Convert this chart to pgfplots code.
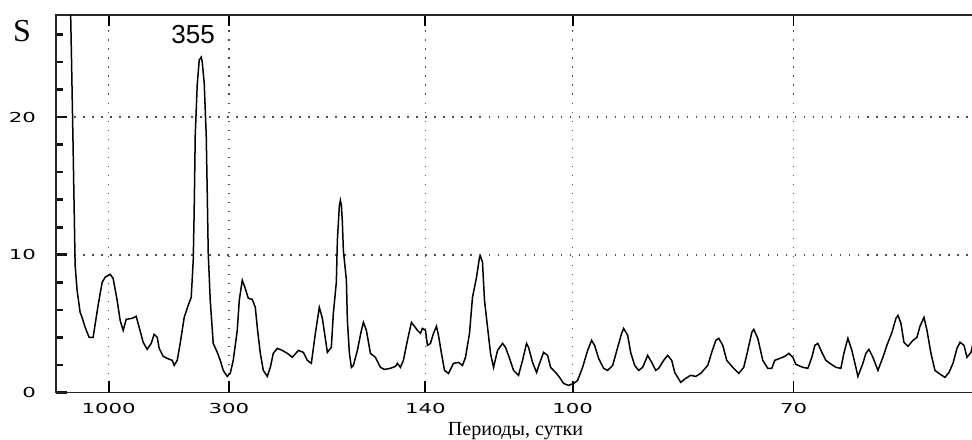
\documentclass[border=0pt]{standalone}
\usepackage{fontspec}
\setmainfont{Liberation Serif}
\newfontfamily\tickfont{DejaVu Sans}
\newfontfamily\labfont{Liberation Sans}
\usepackage{graphicx}
\usepackage{pgfplots}
\pgfplotsset{compat=1.18}
\definecolor{tk}{RGB}{20,20,20}
\newcommand{\tl}[1]{\scalebox{1.55}[1]{#1}}
\begin{document}
\begin{tikzpicture}
\begin{axis}[
  axis line style={line width=1.8bp, black!85},
  scale only axis, width=916bp, height=377bp,
  xmin=-0.02, xmax=17.767, ymin=0, ymax=27.42,
  tick align=inside,
  xtick pos=both, ytick pos=left,
  major tick length=11bp, minor tick length=7bp,
  major tick style={black, line width=1.8bp},
  minor tick style={black, line width=1.8bp},
  xtick={1,3.333333,7.142857,10,14.285714},
  xticklabels={\tl{1000},\tl{300},\tl{140},\tl{100},\tl{70}},
  ytick={0,10,20},
  yticklabels={\tl{0},\tl{10},\tl{20}},
  minor ytick={2,4,6,8,12,14,16,18,22,24,26},
  y tick style={tk, line width=2.6bp},
  minor y tick style={tk, line width=2.6bp},
  tick label style={font=\tickfont\fontsize{13.7bp}{15bp}\selectfont},
  xticklabel style={yshift=-7bp},
  yticklabel style={xshift=-16.5bp},
  grid=major,
  major grid style={black!70, line width=1.6bp, dash pattern=on 1.6bp off 7.4bp},
  xlabel={Периоды, сутки},
  xlabel style={at={(rel axis cs:0.501,0)}, anchor=base, yshift=-43bp, font=\fontsize{20bp}{22bp}\selectfont},
  clip=true,
]
\addplot[black, line width=1.5bp] coordinates {
(0.250,30) (0.282,23.78) (0.311,17.75) (0.350,9.24) (0.388,7.42) (0.447,5.82) (0.485,5.45) (0.544,4.73) (0.621,4.00) (0.699,4.00)
(0.796,6.33) (0.874,8.00) (0.932,8.36) (1.029,8.58) (1.087,8.29) (1.165,6.69) (1.223,5.24) (1.282,4.51) (1.340,5.31) (1.456,5.38)
(1.534,5.53) (1.592,4.73) (1.670,3.64) (1.748,3.13) (1.825,3.56) (1.883,4.22) (1.942,4.00) (1.981,3.20) (2.058,2.62) (2.136,2.47)
(2.233,2.33) (2.272,1.96) (2.330,2.33) (2.388,3.56) (2.466,5.45) (2.544,6.33) (2.602,6.91) (2.641,9.60) (2.656,12.51) (2.666,14.91)
(2.680,18.69) (2.718,22.33) (2.757,24.15) (2.796,24.36) (2.816,24.00) (2.854,22.47) (2.893,18.69) (2.913,14.47) (2.932,10.11) (2.971,6.69)
(3.029,3.56) (3.107,2.91) (3.165,2.33) (3.223,1.60) (3.301,1.16) (3.359,1.38) (3.417,2.33) (3.495,4.51) (3.534,6.69) (3.592,8.15)
(3.650,7.56) (3.709,6.84) (3.786,6.76) (3.845,6.18) (3.883,4.73) (3.942,2.84) (4.000,1.60) (4.078,1.16) (4.136,1.82) (4.194,2.84)
(4.272,3.20) (4.369,3.05) (4.466,2.84) (4.563,2.55) (4.680,3.05) (4.777,2.91) (4.854,2.33) (4.932,2.11) (5.010,4.29) (5.087,6.18)
(5.146,5.38) (5.243,2.91) (5.320,3.27) (5.359,5.75) (5.417,8.00) (5.437,11.05) (5.476,13.60) (5.495,13.96) (5.515,13.60) (5.534,12.36)
(5.553,10.33) (5.612,8.15) (5.631,5.24) (5.670,2.84) (5.709,1.82) (5.748,1.96) (5.825,3.05) (5.903,4.51) (5.942,5.09) (6.000,4.51)
(6.078,2.84) (6.175,2.55) (6.272,1.82) (6.350,1.67) (6.466,1.75) (6.563,1.89) (6.602,2.11) (6.660,1.82) (6.718,2.33) (6.796,3.78)
(6.874,5.09) (6.932,4.80) (6.990,4.51) (7.049,4.29) (7.087,4.65) (7.146,4.51) (7.184,3.42) (7.243,3.56) (7.301,4.29) (7.359,4.80)
(7.398,4.15) (7.456,2.84) (7.515,1.60) (7.592,1.38) (7.689,2.11) (7.786,2.18) (7.864,1.96) (7.922,2.55) (8.000,4.29) (8.058,6.91)
(8.136,8.36) (8.194,9.82) (8.214,9.89) (8.252,9.45) (8.291,6.69) (8.350,4.73) (8.408,2.84) (8.466,1.82) (8.544,3.05) (8.641,3.56)
(8.699,3.27) (8.777,2.47) (8.854,1.60) (8.951,1.24) (9.029,2.33) (9.107,3.56) (9.146,3.27) (9.223,2.18) (9.301,1.45) (9.359,2.11)
(9.437,2.91) (9.515,2.69) (9.573,1.82) (9.670,1.45) (9.748,1.09) (9.825,0.65) (9.922,0.51) (10.019,0.65) (10.097,0.87) (10.194,1.82)
(10.291,3.05) (10.369,3.78) (10.427,3.42) (10.505,2.47) (10.602,1.75) (10.680,1.60) (10.777,1.96) (10.874,3.27) (10.951,4.29) (10.990,4.65)
(11.068,4.15) (11.126,2.91) (11.204,1.96) (11.282,1.60) (11.359,1.82) (11.417,2.33) (11.456,2.69) (11.534,2.18) (11.612,1.60) (11.670,1.75)
(11.767,2.33) (11.845,2.69) (11.922,2.33) (11.981,1.45) (12.097,0.73) (12.194,1.02) (12.291,1.24) (12.388,1.16) (12.485,1.38) (12.621,1.96)
(12.699,2.91) (12.777,3.78) (12.835,3.93) (12.913,3.42) (12.990,2.33) (13.107,1.82) (13.223,1.38) (13.320,1.82) (13.398,3.05) (13.476,4.36)
(13.515,4.58) (13.592,3.93) (13.689,2.33) (13.786,1.75) (13.864,1.75) (13.922,2.33) (14.019,2.47) (14.117,2.62) (14.194,2.84) (14.272,2.55)
(14.330,2.04) (14.466,1.82) (14.563,1.75) (14.641,2.55) (14.699,3.42) (14.757,3.56) (14.835,2.91) (14.913,2.33) (14.990,2.11) (15.107,1.82)
(15.204,1.75) (15.262,2.84) (15.340,3.93) (15.417,3.05) (15.495,1.82) (15.534,1.16) (15.631,2.11) (15.689,2.84) (15.748,3.13) (15.825,2.55)
(15.922,1.60) (16.019,2.55) (16.097,3.42) (16.194,4.36) (16.272,5.38) (16.311,5.60) (16.369,5.02) (16.427,3.64) (16.505,3.35) (16.602,3.78)
(16.680,4.00) (16.738,4.80) (16.816,5.45) (16.874,4.51) (16.951,2.84) (17.029,1.60) (17.107,1.38) (17.223,1.09) (17.301,1.45) (17.379,2.11)
(17.456,3.20) (17.515,3.64) (17.592,3.42) (17.650,2.55) (17.728,2.91) (17.767,3.56)
};
\end{axis}
\node[font=\fontsize{32bp}{34bp}\selectfont] at (-34bp,361bp) {S};
\node[font=\labfont\fontsize{26bp}{28bp}\selectfont] at (137bp,357bp) {355};
\pgfresetboundingbox
\path (-56bp,-47bp) rectangle (915bp,392bp);
\end{tikzpicture}
\end{document}
